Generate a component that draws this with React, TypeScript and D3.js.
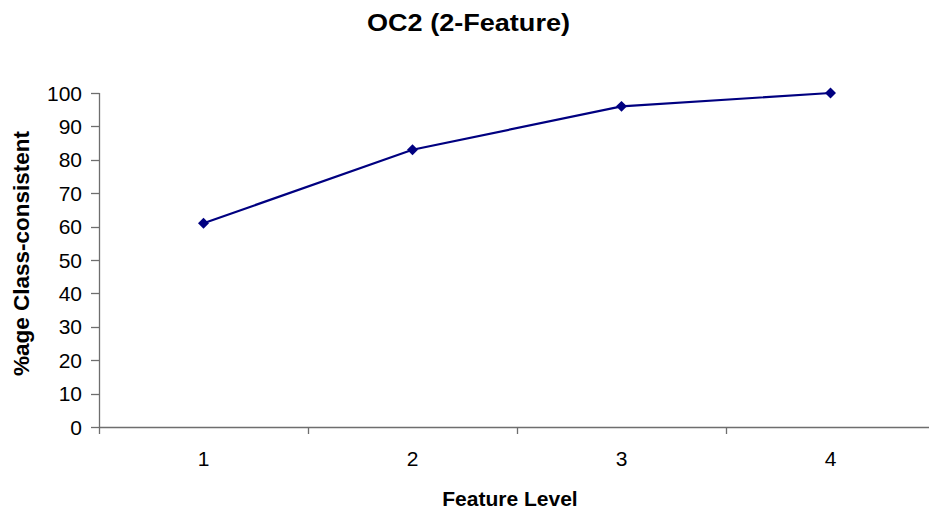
import React from "react";
import * as d3 from "d3";

const categories: number[] = [1, 2, 3, 4];
const values: number[] = [61, 83, 96, 100];
const yTicks: number[] = [0, 10, 20, 30, 40, 50, 60, 70, 80, 90, 100];
const title = "OC2 (2-Feature)";
const xTitle = "Feature Level";
const yTitle = "%age Class-consistent";

const W = 929;
const H = 514;
const FONT = "Arial, 'Liberation Sans', Helvetica, sans-serif";

export default function App() {
  const x = d3.scaleBand<number>().domain(categories).range([99, 935]).padding(0);
  const y = d3.scaleLinear().domain([0, 100]).range([427, 93]);
  const bw = x.bandwidth();
  const cx = (c: number) => (x(c) as number) + bw / 2;
  const line = d3
    .line<number>()
    .x((_, i) => cx(categories[i]))
    .y((v) => y(v));
  const diamond = d3.symbol(d3.symbolSquare, 60)();
  const boundaries = [...categories.map((c) => x(c) as number), (x(categories[categories.length - 1]) as number) + bw];
  const axisColor = "#6e6e6e";

  return (
    <>
      <style>{`body{margin:0;}`}</style>
      <svg width={W} height={H} style={{ display: "block", background: "#fff" }} fontFamily={FONT}>
        <text x={367} y={31} fontSize={24} fontWeight="bold" fill="#000" textLength={203} lengthAdjust="spacingAndGlyphs">
          {title}
        </text>
        {/* y axis */}
        <line x1={99.5} x2={99.5} y1={y(100)} y2={y(0)} stroke={axisColor} strokeWidth={1.3} />
        {yTicks.map((t) => (
          <g key={t}>
            <line x1={91} x2={99.5} y1={Math.round(y(t)) + 0.5} y2={Math.round(y(t)) + 0.5} stroke={axisColor} strokeWidth={1.3} />
            <text x={82} y={y(t)} dy="0.36em" textAnchor="end" fontSize={21} fill="#000">
              {t}
            </text>
          </g>
        ))}
        {/* x axis */}
        <line x1={99} x2={W} y1={427.5} y2={427.5} stroke={axisColor} strokeWidth={1.3} />
        {boundaries.map((b, i) => (
          <line key={i} x1={Math.round(b) + 0.5} x2={Math.round(b) + 0.5} y1={427.5} y2={434} stroke={axisColor} strokeWidth={1.3} />
        ))}
        {categories.map((c) => (
          <text key={c} x={cx(c)} y={466} textAnchor="middle" fontSize={21} fill="#000">
            {c}
          </text>
        ))}
        <text x={510} y={506} textAnchor="middle" fontSize={21} fontWeight="bold" fill="#000">
          {xTitle}
        </text>
        <text
          transform={`translate(29,253.5) rotate(-90)`}
          textAnchor="middle"
          fontSize={22.5}
          fontWeight="bold"
          fill="#000"
        >
          {yTitle}
        </text>
        {/* series */}
        <path d={line(values) || ""} fill="none" stroke="#000080" strokeWidth={2.2} />
        {values.map((v, i) => (
          <path
            key={i}
            d={diamond || ""}
            transform={`translate(${cx(categories[i])},${y(v)}) rotate(45)`}
            fill="#000080"
          />
        ))}
      </svg>
    </>
  );
}
